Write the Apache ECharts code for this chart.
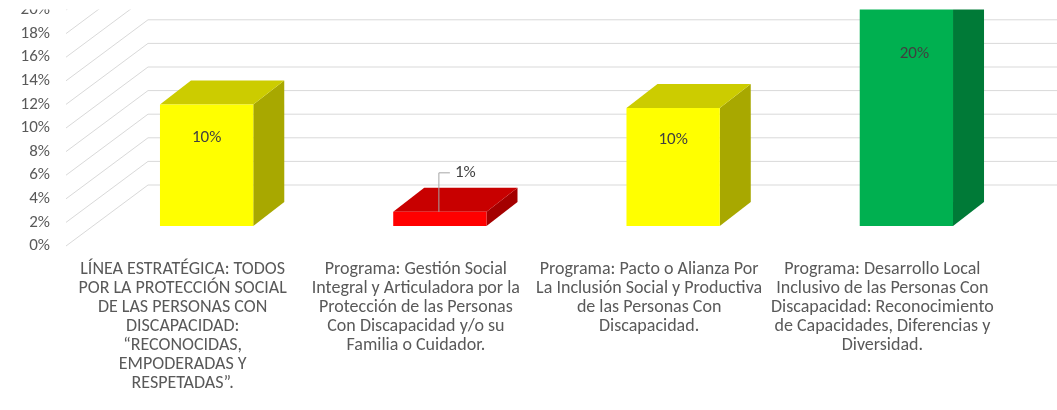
<!DOCTYPE html>
<html><head><meta charset="utf-8">
<script src="https://cdn.jsdelivr.net/npm/echarts@6/dist/echarts.min.js"></script>
<style>html,body{margin:0;padding:0;background:#fff}#c{width:1057px;height:410px}</style>
</head><body><div id="c"></div>
<script>
// ---- data ----
const categories = [
  'LÍNEA ESTRATÉGICA: TODOS\nPOR LA PROTECCIÓN SOCIAL\nDE LAS PERSONAS CON\nDISCAPACIDAD:\n“RECONOCIDAS,\nEMPODERADAS Y\nRESPETADAS”.',
  'Programa: Gestión Social\nIntegral y Articuladora por la\nProtección de las Personas\nCon Discapacidad y/o su\nFamilia o Cuidador.',
  'Programa: Pacto o Alianza Por\nLa Inclusión Social y Productiva\nde las Personas Con\nDiscapacidad.',
  'Programa: Desarrollo Local\nInclusivo de las Personas Con\nDiscapacidad: Reconocimiento\nde Capacidades, Diferencias y\nDiversidad.'
];
const values = [0.103, 0.012, 0.100, 0.200];
const valueLabels = ['10%', '1%', '10%', '20%'];
const yTicks = [0, 0.02, 0.04, 0.06, 0.08, 0.10, 0.12, 0.14, 0.16, 0.18, 0.20];

// ---- styles ----
const frontColors = ['#FFFF00', '#FF0000', '#FFFF00', '#00B050'];
const topColors   = ['#CCCC00', '#C80000', '#CCCC00', '#00A048'];
const sideColors  = ['#A8A800', '#A40000', '#A8A800', '#007A37'];
const FONT = 'Carlito, "Liberation Sans", Arial, sans-serif';
const WALL_DX = 82, WALL_DY = -61;   // depth of the back wall
const BAR_DX = 24, BAR_DY = -20;     // bar front plane offset
const SIDE_DX = 31, SIDE_DY = -24;   // bar depth

const chart = echarts.init(document.getElementById('c'), null, {renderer: 'canvas'});

function gridRender(params, api) {
  const v = api.value(1);
  const y = api.coord([0, v])[1];
  const cs = params.coordSys;
  const l = cs.x, r = cs.x + cs.width;
  return {
    type: 'polyline',
    shape: {points: [[l, y], [l + WALL_DX, y + WALL_DY], [r + WALL_DX, y + WALL_DY]]},
    style: {stroke: '#D9D9D9', lineWidth: 1, fill: null}
  };
}

function barRender(params, api) {
  const i = api.value(0), v = api.value(1);
  const base = api.coord([i, 0]);
  const top = api.coord([i, v]);
  const bw = api.size([1, 0])[0] * 0.4;
  const cx = base[0] + BAR_DX;
  const x0 = cx - bw / 2, x1 = cx + bw / 2;
  const yb = base[1] + BAR_DY, yt = top[1] + BAR_DY;
  const children = [
    {type: 'polygon', shape: {points: [[x1, yb], [x1, yt], [x1 + SIDE_DX, yt + SIDE_DY], [x1 + SIDE_DX, yb + SIDE_DY]]},
     style: {fill: sideColors[i]}},
    {type: 'polygon', shape: {points: [[x0, yt], [x1, yt], [x1 + SIDE_DX, yt + SIDE_DY], [x0 + SIDE_DX, yt + SIDE_DY]]},
     style: {fill: topColors[i]}},
    {type: 'rect', shape: {x: x0, y: yt, width: bw, height: yb - yt},
     style: {fill: frontColors[i]}}
  ];
  const h = yb - yt;
  if (h > 40) {
    children.push({type: 'text', style: {
      text: valueLabels[i], x: cx + (i === 3 ? 8 : 0), y: yt + h * 0.27,
      align: 'center', verticalAlign: 'middle', fill: '#404040',
      font: '17px ' + FONT}});
  } else {
    const ly = yt - 39;
    children.push({type: 'polyline', shape: {points: [[cx - 1, yt], [cx - 1, ly], [cx + 10, ly]]},
      style: {stroke: '#A6A6A6', lineWidth: 1, fill: null}});
    children.push({type: 'text', style: {
      text: valueLabels[i], x: cx + 15, y: ly,
      align: 'left', verticalAlign: 'middle', fill: '#404040',
      font: '17px ' + FONT}});
  }
  return {type: 'group', children};
}

chart.setOption({
  animation: false,
  backgroundColor: '#fff',
  textStyle: {fontFamily: FONT},
  grid: {left: 66, right: 58, top: 10, bottom: 164, containLabel: false},
  xAxis: {
    type: 'category', data: categories,
    axisLine: {show: false}, axisTick: {show: false}, splitLine: {show: false},
    axisLabel: {interval: 0, color: '#595959', fontSize: 18, lineHeight: 19, margin: 14, fontFamily: FONT}
  },
  yAxis: {
    type: 'value', min: 0, max: 0.2, interval: 0.02,
    axisLine: {show: false}, axisTick: {show: false}, splitLine: {show: false},
    axisLabel: {color: '#595959', fontSize: 17, margin: 16, fontFamily: FONT,
      formatter: v => Math.round(v * 100) + '%'}
  },
  graphic: [{type: 'rect', z: 100, shape: {x: 0, y: 0, width: 1057, height: 9.5}, style: {fill: '#fff'}}],
  series: [
    {type: 'custom', z: 1, renderItem: gridRender, data: yTicks.map(v => [0, v]), silent: true, clip: false},
    {type: 'custom', z: 2, renderItem: barRender, data: values.map((v, i) => [i, v]), silent: true, clip: false}
  ]
});
</script>
</body></html>
